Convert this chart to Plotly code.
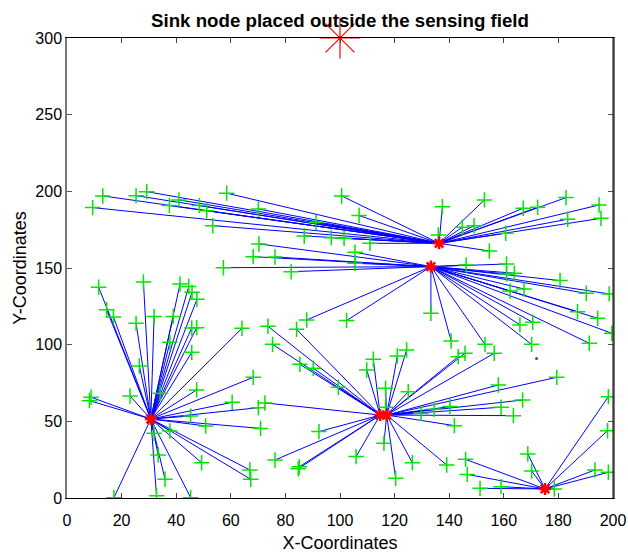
import plotly.graph_objects as go

# Cluster heads
ch_x = [30.7, 114.7, 117.1, 133.3, 136.3, 175.1]
ch_y = [51.5, 54.1, 54.1, 150.9, 166.1, 5.9]

# Member nodes per cluster head
a_x = [11.6, 28, 41.4, 44.6, 45.8, 47.6, 14.5, 17, 25.3, 31.9, 38.9, 45.7, 47.5, 64.1,
       37.7, 45.7, 26.5, 47.5, 34.1, 23.1, 8.8, 8.2, 60.5, 45.3, 50.8, 31.9, 37.7, 33.4,
       49.3, 35.9, 17.2, 32.8, 45.3, 68.2, 70.1, 70.9, 67, 67.3]
a_y = [137.4, 140.9, 139.6, 137.9, 134.2, 129.6, 122.8, 118.1, 113.9, 118.3, 118.3, 110.9, 111.1, 110.7,
       101.5, 95, 86.1, 70.5, 68.3, 66.5, 65.7, 63.5, 62.4, 53.5, 47, 42.2, 43.7, 28,
       23, 12.2, 0.2, 1.5, 0.2, 78.7, 58.9, 45.4, 18.3, 12.2]

b1_x = [73.6, 84.1, 75.3, 85.3, 90.2, 99.4, 72.5, 92.3, 76.2, 85.1, 84.7, 105.9, 109.8, 112.2]
b1_y = [112, 110, 100.2, 87.2, 84.6, 72.2, 62, 43.3, 24.8, 20.4, 19, 27, 83.5, 90.5]

b2_x = [116.1, 120.4, 126.5, 121, 124.4, 116.7, 116.7, 125, 129.7, 143.3, 145.8, 156.5,
        179.4, 158, 166.9, 159, 140.3, 134.5, 163.5, 141.9, 139.1]
b2_y = [35.7, 12.8, 23, 92.6, 96.5, 71.6, 59.2, 69.3, 55.2, 92.2, 94.4, 94.4,
        78.7, 73.7, 63.9, 59.2, 59.6, 57.8, 53.7, 47.2, 21.5]

c_x = [57.3, 70.3, 68.2, 76.2, 105.5, 105.5, 82.1, 87.8, 102.4, 133.3, 146.2, 161, 161, 163.9,
       162.3, 167.4, 180.6, 190.2, 198.6, 187, 194.4, 165.9, 170.6, 199.6, 140.7, 153.1, 170.2, 191.3]
c_y = [150.2, 165.7, 157.4, 157.2, 160.3, 153.1, 147.6, 116.1, 115.7, 120.5, 152, 152.6, 146.1, 146.6,
       135, 136.3, 141.8, 133.5, 133.1, 121.5, 117.2, 112.9, 114.6, 107.4, 102.4, 100.2, 100.2, 100.9]

d_x = [13.1, 9.4, 25.3, 29.2, 37.5, 41, 48.5, 51.2, 53.4, 58.5, 70.1, 100.6, 107, 91.2, 86.9,
       96.8, 101.5, 111, 137.5, 152.9, 144.8, 149.1, 136, 167.1, 172.4, 182.8, 194.9, 183.4,
       195.6, 160.7, 154.7]
d_y = [197, 189.4, 197.2, 199.8, 190.7, 194.4, 190.7, 187.4, 177.6, 198.8, 188.5, 197, 184.2, 179.6, 170.9,
       169.8, 169.4, 166.1, 190, 194.4, 176.6, 177.6, 171.6, 189, 189.6, 195.9, 191.1, 181.8,
       182.4, 172.7, 161.1]

e_x = [168.8, 170.2, 146, 146.6, 151.3, 159, 178.5, 198.3, 198, 193.4, 198.3]
e_y = [28.7, 17.6, 25.2, 15.4, 6.3, 7.4, 5.9, 66.1, 43.9, 18.3, 16.8]

members = [(a_x, a_y), (b1_x, b1_y), (b2_x, b2_y), (c_x, c_y), (d_x, d_y), (e_x, e_y)]

sink_x = [100]
sink_y = [300]
dead_x = [172]
dead_y = [90.9]

title = "Sink node placed outside the sensing field"
x_label = "X-Coordinates"
y_label = "Y-Coordinates"
x_ticks = [0, 20, 40, 60, 80, 100, 120, 140, 160, 180, 200]
y_ticks = [0, 50, 100, 150, 200, 250, 300]

lx, ly, nx, ny = [], [], [], []
for k, (mx, my) in enumerate(members):
    for xx, yy in zip(mx, my):
        lx += [xx, ch_x[k], None]
        ly += [yy, ch_y[k], None]
        nx.append(xx)
        ny.append(yy)

fig = go.Figure()
fig.add_trace(go.Scatter(x=lx, y=ly, mode="lines", line=dict(color="#0000ff", width=1),
                         hoverinfo="skip", showlegend=False))
fig.add_trace(go.Scatter(x=nx, y=ny, mode="markers",
                         marker=dict(symbol="cross-thin-open", size=11, color="#00e600",
                                     line=dict(color="#00e600", width=1.5)),
                         showlegend=False))
fig.add_trace(go.Scatter(x=dead_x, y=dead_y, mode="markers",
                         marker=dict(symbol="circle", size=3, color="#7e2f8e"),
                         showlegend=False))
fig.add_trace(go.Scatter(x=ch_x, y=ch_y, mode="markers",
                         marker=dict(symbol="asterisk-open", size=10, color="#ff0000",
                                     line=dict(color="#ff0000", width=2.5)),
                         showlegend=False))
fig.add_trace(go.Scatter(x=sink_x, y=sink_y, mode="markers", cliponaxis=False,
                         marker=dict(symbol="asterisk-open", size=34, color="#ff0000",
                                     line=dict(color="#ff0000", width=1.2)),
                         showlegend=False))

W, H = 628, 553
font_family = "Liberation Sans, Arial, sans-serif"
fig.update_layout(
    width=W, height=H,
    margin=dict(l=67, r=15, t=38, b=55),
    paper_bgcolor="white", plot_bgcolor="white",
    font=dict(family=font_family, size=16, color="#000000"),
    title=dict(text="<b>" + title + "</b>", x=340 / W, xanchor="center",
               y=1 - 20 / H, yanchor="middle", font=dict(size=18.7, color="#000000")),
    xaxis=dict(range=[0, 200], tickvals=x_ticks, ticks="inside", ticklen=5,
               tickcolor="#444444", showline=True, linecolor="#000000", linewidth=1,
               mirror="ticks", showgrid=False, zeroline=False, automargin=False,
               ticklabelstandoff=8,
               title=dict(text=x_label, standoff=11, font=dict(size=18))),
    yaxis=dict(range=[0, 300], tickvals=y_ticks, ticks="inside", ticklen=5,
               tickcolor="#555555", showline=True, linecolor="#777777", linewidth=1.5,
               mirror="ticks", showgrid=False, zeroline=False, automargin=False,
               title=dict(text=y_label, standoff=4, font=dict(size=18))),
    shapes=[dict(type="line", xref="paper", yref="paper", x0=1, x1=1, y0=0, y1=1,
                 line=dict(color="#000000", width=1))],
)

fig.write_html("out.html", config={"displayModeBar": False},
               post_script="document.body.style.margin='0px';document.body.style.overflow='hidden';")
